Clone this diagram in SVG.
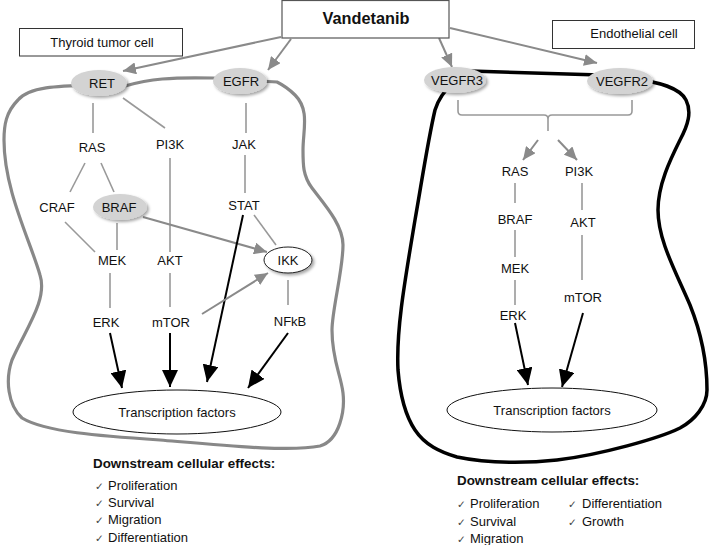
<svg xmlns="http://www.w3.org/2000/svg" width="717" height="545" viewBox="0 0 717 545">
<style>
text{font-family:"Liberation Sans",Arial,sans-serif;fill:#111}
.lbl{font-size:13px;text-anchor:middle}
.t{font-size:13px}
.hd{font-size:13.4px;font-weight:bold}
.ck{font-family:"DejaVu Sans",sans-serif;font-size:10.5px;fill:#444}
.g{stroke:#999;stroke-width:1.6;fill:none}
.ga{stroke:#8a8a8a;stroke-width:2;fill:none;marker-end:url(#ag)}
.ba{stroke:#000;stroke-width:2;fill:none;marker-end:url(#ab)}
.gel{fill:#d3d3d3;filter:url(#sh)}
</style>
<defs>
<filter id="sh" x="-30%" y="-40%" width="170%" height="190%"><feDropShadow dx="2" dy="2" stdDeviation="1.5" flood-color="#000" flood-opacity="0.35"/></filter>
<marker id="ag" markerUnits="userSpaceOnUse" markerWidth="14" markerHeight="12" refX="13" refY="6" orient="auto"><path d="M0,0 L13,6 L0,12 Z" fill="#8a8a8a"/></marker>
<marker id="ab" markerUnits="userSpaceOnUse" markerWidth="18" markerHeight="16" refX="17" refY="8" orient="auto"><path d="M0,0 L17,8 L0,16 Z" fill="#000"/></marker>
</defs>
<rect width="717" height="545" fill="#fff"/>

<g id="cells">
<path d="M98 85 C60 86 30 86 18 100 C6 112 4 125 4 140 C4 190 30 240 40 275 C48 300 25 330 12 360 C5 380 8 405 22 418 C45 432 100 436 160 440 C230 446 290 452 320 446 C340 440 345 410 343 393 C341 375 332 360 332 330 C332 310 343 270 343 245 C343 225 325 205 312 188 C303 176 303 165 303 150 C303 130 310 110 295 95 C290 90 285 86 277 82 L240 80 L213 78 C170 77 150 79 125 86 Z" fill="none" stroke="#888" stroke-width="3.2"/>
<path d="M470 71 L600 75 L630 78 C660 82 680 88 686 100 C692 112 688 125 680 140 C670 160 658 185 658 210 C658 240 675 270 690 305 C700 330 707 360 707 390 C707 405 695 420 680 428 C660 438 600 455 557 460 C530 463 490 464 457 457 C440 452 425 445 415 430 C405 415 400 395 398 370 C396 330 405 280 415 220 C422 180 428 140 435 110 C438 100 445 90 454 82 Z" fill="none" stroke="#000" stroke-width="3.5"/>
</g>

<g id="connectors">
<line class="ga" x1="281" y1="37" x2="123" y2="71"/>
<line class="ga" x1="291" y1="39" x2="268" y2="70"/>
<line class="ga" x1="439" y1="38" x2="452" y2="67"/>
<line class="ga" x1="450" y1="28" x2="597" y2="63"/>
<line class="g" x1="93" y1="103" x2="93" y2="133"/>
<line class="g" x1="123" y1="98" x2="165" y2="128"/>
<line class="g" x1="246" y1="103" x2="246" y2="133"/>
<line class="g" x1="85" y1="163" x2="70" y2="192"/>
<line class="g" x1="101" y1="163" x2="114" y2="192"/>
<line class="g" x1="245" y1="155" x2="245" y2="193"/>
<line class="g" x1="170" y1="158" x2="170" y2="252"/>
<line class="g" x1="65" y1="222" x2="95" y2="252"/>
<line class="g" x1="117" y1="223" x2="117" y2="250"/>
<line class="g" x1="254" y1="215" x2="276" y2="245"/>
<line class="ga" x1="143" y1="217" x2="267" y2="252"/>
<line class="ba" x1="243" y1="215" x2="207" y2="382"/>
<line class="ga" x1="202" y1="314" x2="268" y2="273"/>
<line class="g" x1="288" y1="280" x2="288" y2="305"/>
<line class="g" x1="110" y1="273" x2="110" y2="308"/>
<line class="g" x1="170" y1="273" x2="170" y2="307"/>
<line class="ba" x1="110" y1="333" x2="122" y2="388"/>
<line class="ba" x1="170" y1="333" x2="170" y2="387"/>
<line class="ba" x1="288" y1="333" x2="248" y2="388"/>
<path class="g" stroke-width="1.3" d="M458 100 L458 111 Q458 115 462 115 L544 115 Q548 115 548 119 L548 131 M548 119 Q548 115 552 115 L628 115 Q632 115 632 111 L632 100"/>
<line class="ga" x1="538" y1="140" x2="523" y2="160"/>
<line class="ga" x1="558" y1="140" x2="577" y2="160"/>
<line class="g" x1="515" y1="183" x2="515" y2="203"/>
<line class="g" x1="515" y1="230" x2="515" y2="257"/>
<line class="g" x1="515" y1="280" x2="515" y2="305"/>
<line class="g" x1="582" y1="183" x2="582" y2="210"/>
<line class="g" x1="582" y1="235" x2="582" y2="280"/>
<line class="ba" x1="515" y1="323" x2="528" y2="385"/>
<line class="ba" x1="583" y1="313" x2="562" y2="387"/>
</g>

<g id="vandetanib"><rect x="282" y="0.5" width="167" height="37.5" fill="#fff" stroke="#555" stroke-width="1.2"/><text x="366" y="24" style="font-size:16.3px;font-weight:bold;text-anchor:middle">Vandetanib</text></g>
<g id="thyroid-label"><rect x="19.5" y="28.5" width="163" height="27.5" fill="#fff" stroke="#333" stroke-width="1"/><text class="lbl" x="102" y="47">Thyroid tumor cell</text></g>
<g id="endothelial-label"><rect x="552.5" y="20.5" width="142" height="28" fill="#fff" stroke="#333" stroke-width="1"/><text class="lbl" x="634" y="38">Endothelial cell</text></g>

<g id="RET"><ellipse class="gel" cx="99" cy="83" rx="28" ry="13"/><text class="lbl" x="102" y="88">RET</text></g>
<g id="EGFR"><ellipse class="gel" cx="240" cy="81" rx="27" ry="13"/><text class="lbl" x="241" y="85.5">EGFR</text></g>
<g id="VEGFR3"><ellipse class="gel" cx="455" cy="80" rx="31" ry="13"/><text class="lbl" x="457" y="85">VEGFR3</text></g>
<g id="VEGFR2"><ellipse class="gel" cx="620" cy="81" rx="33" ry="13"/><text class="lbl" x="622" y="86">VEGFR2</text></g>

<g id="L-RAS"><text class="lbl" x="92" y="151.5">RAS</text></g>
<g id="L-PI3K"><text class="lbl" x="170" y="148.5">PI3K</text></g>
<g id="L-JAK"><text class="lbl" x="244" y="148.5">JAK</text></g>
<g id="L-CRAF"><text class="lbl" x="57" y="211.5">CRAF</text></g>
<g id="L-BRAF"><ellipse class="gel" cx="120" cy="207" rx="27" ry="13"/><text class="lbl" x="119" y="211.5">BRAF</text></g>
<g id="L-STAT"><text class="lbl" x="244" y="209.5">STAT</text></g>
<g id="L-MEK"><text class="lbl" x="112" y="264.5">MEK</text></g>
<g id="L-AKT"><text class="lbl" x="170" y="264.5">AKT</text></g>
<g id="L-IKK"><ellipse cx="288" cy="260" rx="24" ry="13" fill="#fff" stroke="#222" stroke-width="1" filter="url(#sh)"/><text class="lbl" x="288" y="264.5">IKK</text></g>
<g id="L-ERK"><text class="lbl" x="106" y="326.5">ERK</text></g>
<g id="L-mTOR"><text class="lbl" x="171" y="326.5">mTOR</text></g>
<g id="L-NFkB"><text class="lbl" x="290" y="325.5">NFkB</text></g>
<g id="L-TF"><ellipse cx="177" cy="412" rx="104" ry="22" fill="#fff" stroke="#111" stroke-width="1"/><text class="lbl" x="177" y="416.5">Transcription factors</text></g>

<g id="R-RAS"><text class="lbl" x="515" y="175.5">RAS</text></g>
<g id="R-PI3K"><text class="lbl" x="579" y="175.5">PI3K</text></g>
<g id="R-BRAF"><text class="lbl" x="515" y="223.5">BRAF</text></g>
<g id="R-AKT"><text class="lbl" x="583" y="226.5">AKT</text></g>
<g id="R-MEK"><text class="lbl" x="515" y="272.5">MEK</text></g>
<g id="R-mTOR"><text class="lbl" x="583" y="301.5">mTOR</text></g>
<g id="R-ERK"><text class="lbl" x="513" y="319.5">ERK</text></g>
<g id="R-TF"><ellipse cx="552" cy="410" rx="105" ry="22" fill="#fff" stroke="#111" stroke-width="1"/><text class="lbl" x="552" y="414.5">Transcription factors</text></g>

<g id="left-effects">
<text class="hd" x="93" y="468">Downstream cellular effects:</text>
<text class="ck" x="95" y="490">✓</text><text class="t" x="108" y="490">Proliferation</text>
<text class="ck" x="95" y="507">✓</text><text class="t" x="108" y="507">Survival</text>
<text class="ck" x="95" y="524">✓</text><text class="t" x="108" y="524">Migration</text>
<text class="ck" x="95" y="542">✓</text><text class="t" x="108" y="542">Differentiation</text>
</g>
<g id="right-effects">
<text class="hd" x="457" y="485">Downstream cellular effects:</text>
<text class="ck" x="457" y="508">✓</text><text class="t" x="470" y="508">Proliferation</text>
<text class="ck" x="457" y="526">✓</text><text class="t" x="470" y="526">Survival</text>
<text class="ck" x="457" y="543">✓</text><text class="t" x="470" y="543">Migration</text>
<text class="ck" x="568" y="508">✓</text><text class="t" x="582" y="508">Differentiation</text>
<text class="ck" x="568" y="526">✓</text><text class="t" x="582" y="526">Growth</text>
</g>
</svg>
